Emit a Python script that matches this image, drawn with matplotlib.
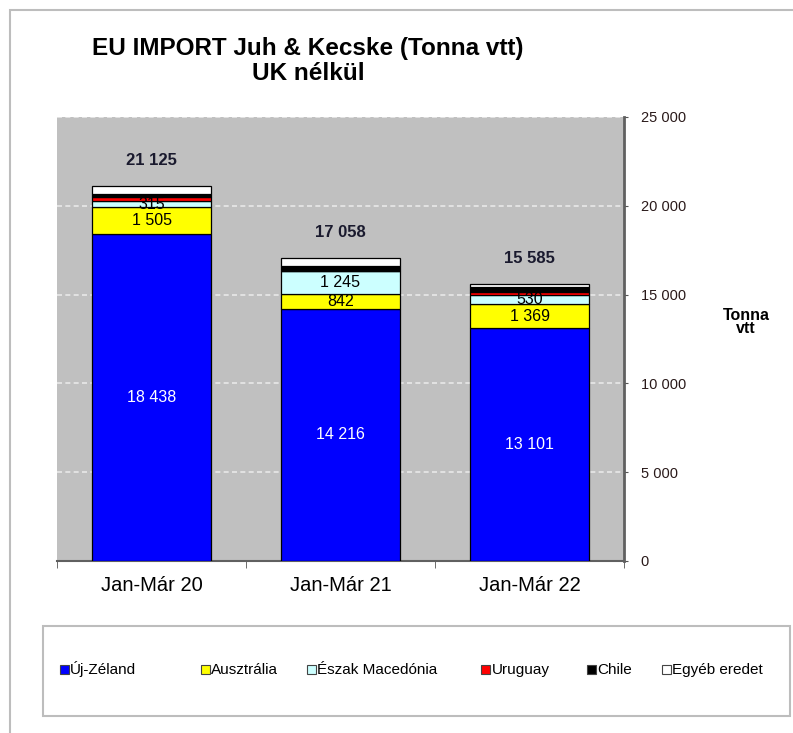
import matplotlib
matplotlib.use("Agg")
import matplotlib.pyplot as plt
from matplotlib.patches import Rectangle
import numpy as np

plt.rcParams['font.family'] = ['Liberation Sans', 'DejaVu Sans']

categories = ["Jan-Már 20", "Jan-Már 21", "Jan-Már 22"]
series_names = ["Új-Zéland", "Ausztrália", "Észak Macedónia", "Uruguay", "Chile", "Egyéb eredet"]
uj_zeland = [18438, 14216, 13101]
ausztralia = [1505, 842, 1369]
eszak_macedonia = [315, 1245, 530]
uruguay = [230, 30, 165]
chile = [200, 250, 250]
egyeb = [437, 475, 170]
totals = [21125, 17058, 15585]
labelled = [True, True, True, False, False, False]
colors = ["#0000FF", "#FFFF00", "#CCFFFF", "#FF0000", "#000000", "#FFFFFF"]
label_colors = ["white", "black", "black", None, None, None]
yticks = [0, 5000, 10000, 15000, 20000, 25000]

series = [uj_zeland, ausztralia, eszak_macedonia, uruguay, chile, egyeb]

def fmt(v):
    return f"{v:,}".replace(",", " ")

W, H = 793, 733
fig = plt.figure(figsize=(W / 100, H / 100), dpi=100)
fig.patch.set_facecolor("white")

# outer frame
fig.patches.append(Rectangle((10 / W, -0.05), 1.1, 1 - 10 / H + 0.05, transform=fig.transFigure,
                             fill=False, edgecolor="#BDBDBD", lw=1.5))

ax = fig.add_axes([57 / W, 1 - 561 / H, 567 / W, 444 / H])
ax.set_facecolor("#C0C0C0")
x = np.arange(len(categories))
bottom = np.zeros(len(categories))
for vals, col, lc, show in zip(series, colors, label_colors, labelled):
    vals = np.array(vals, dtype=float)
    ax.bar(x, vals, width=0.625, bottom=bottom, color=col, edgecolor="black", lw=0.9, zorder=3)
    if show:
        for xi, b, v in zip(x, bottom, vals):
            ax.text(xi, b + v / 2, fmt(int(v)), ha="center", va="center", color=lc,
                    fontsize=11.5, zorder=5)
    bottom += vals

for xi, t in zip(x, totals):
    ax.text(xi, t + 1000, fmt(t), ha="center", va="bottom", fontsize=12, fontweight="bold",
            color="#1a1a2e", zorder=5)

ax.set_xlim(-0.5, len(categories) - 0.5)
ax.set_ylim(0, 25000)
ax.set_yticks(yticks)
ax.set_yticklabels([fmt(v) for v in yticks], fontsize=10.5, color="#2a1a1a")
ax.yaxis.tick_right()
ax.tick_params(axis="y", length=3, pad=9, color="#555555")
ax.set_xticks(x)
ax.set_xticklabels(categories, fontsize=14.5)
ax.tick_params(axis="x", length=0, pad=11)
ax.set_xticks(np.arange(-0.5, len(categories), 1.0), minor=True)
ax.tick_params(axis="x", which="minor", length=5, color="#555555")
for y in yticks[1:]:
    ax.axhline(y, color="#E8E8E8", lw=1.2, ls=(0, (3, 2)), zorder=1)
for s in ["top", "left"]:
    ax.spines[s].set_visible(False)
ax.spines["right"].set_color("#606060")
ax.spines["right"].set_linewidth(2)
ax.spines["bottom"].set_color("#606060")
ax.spines["bottom"].set_linewidth(1.5)

fig.text(308 / W, 1 - 48 / H, "EU IMPORT Juh & Kecske (Tonna vtt)", ha="center", va="center",
         fontsize=17.5, fontweight="bold")
fig.text(308 / W, 1 - 73 / H, "UK nélkül", ha="center", va="center", fontsize=17.5, fontweight="bold")
fig.text(746 / W, 1 - 322 / H, "Tonna\nvtt", ha="center", va="center", fontsize=11.5,
         fontweight="bold", linespacing=0.85)

# legend box
fig.patches.append(Rectangle((43 / W, 1 - 716 / H), 747 / W, 90 / H, transform=fig.transFigure,
                             fill=True, facecolor="white", edgecolor="#BDBDBD", lw=1.5))
legend_x = [64, 205, 311, 486, 591, 666]
ly = 1 - 669 / H
for name, col, lx in zip(series_names, colors, legend_x):
    fig.patches.append(Rectangle((lx / W - 4.5 / W, ly - 4.5 / H), 9 / W, 9 / H, transform=fig.transFigure,
                                 facecolor=col, edgecolor="#444444", lw=0.8))
    fig.text(lx / W + 6 / W, ly - 5 / H, name, ha="left", va="baseline", fontsize=11)

fig.savefig("out.png", dpi=100)
